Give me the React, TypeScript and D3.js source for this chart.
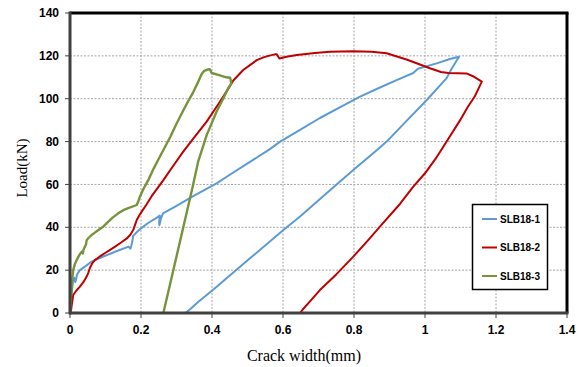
import React from "react";
import * as d3 from "d3";

const xTicks = [0, 0.2, 0.4, 0.6, 0.8, 1, 1.2, 1.4];
const yTicks = [0, 20, 40, 60, 80, 100, 120, 140];
const seriesNames = ["SLB18-1", "SLB18-2", "SLB18-3"];
const seriesColors = ["#5B9BD5", "#C00000", "#77933C"];

const slb1: [number, number][] = [
  [0.004, 8], [0.008, 14], [0.012, 16.5], [0.015, 14.5], [0.017, 15.5], [0.02, 18], [0.028, 20],
  [0.045, 22], [0.061, 24], [0.089, 26], [0.127, 28.6], [0.165, 31], [0.17, 30], [0.173, 31.5],
  [0.175, 33], [0.178, 36], [0.19, 38], [0.2, 39.5], [0.22, 42], [0.245, 44.5], [0.253, 45.5],
  [0.251, 42], [0.252, 41], [0.256, 44], [0.262, 46.5], [0.3, 50], [0.347, 54.5], [0.413, 60.5],
  [0.45, 64.5], [0.507, 70.5], [0.563, 76.5], [0.592, 80], [0.648, 85.5], [0.704, 91], [0.76, 96],
  [0.817, 101], [0.87, 105], [0.92, 108.7], [0.967, 112], [0.98, 114], [1.033, 116.5],
  [1.07, 118.5], [1.096, 119.6],
  [1.075, 114], [1.061, 109.6], [1.005, 99.4], [0.95, 90], [0.892, 80], [0.864, 76], [0.798, 66.7],
  [0.755, 60.6], [0.648, 45], [0.601, 38.7], [0.507, 25.5], [0.404, 11], [0.36, 5], [0.34, 2],
  [0.325, 0],
];

const slb2: [number, number][] = [
  [0, 0], [0.003, 1.4], [0.006, 5], [0.009, 8.4], [0.018, 10.5], [0.028, 12.3], [0.038, 14.5],
  [0.047, 17], [0.052, 19], [0.056, 21], [0.062, 23], [0.07, 24.7], [0.085, 26.5], [0.099, 28],
  [0.113, 29.5], [0.127, 31], [0.145, 33], [0.16, 34.8], [0.17, 36.5], [0.178, 38.7], [0.183, 41],
  [0.188, 43.4], [0.195, 45.5], [0.202, 47.3], [0.215, 50.5], [0.23, 54.5], [0.263, 62],
  [0.29, 68.5], [0.319, 75.3], [0.35, 82], [0.385, 89.3], [0.42, 98], [0.451, 106], [0.46, 108.5],
  [0.488, 113.4], [0.507, 115.7], [0.526, 118], [0.545, 119.3], [0.559, 120], [0.577, 120.7],
  [0.582, 120.8], [0.59, 118.8], [0.61, 119.6], [0.639, 120.4], [0.69, 121.3], [0.732, 121.9],
  [0.798, 122.2], [0.85, 121.9], [0.892, 121.2], [0.95, 118.2], [1.014, 114.2], [1.045, 112.5],
  [1.066, 112], [1.117, 111.8], [1.135, 110.5], [1.16, 108],
  [1.14, 101], [1.12, 96], [1.099, 90], [1.061, 80], [1.03, 72], [1.0, 65.2], [0.967, 59],
  [0.93, 51], [0.873, 40.3], [0.84, 34], [0.798, 26.3], [0.75, 18], [0.704, 10.7], [0.671, 4.5],
  [0.655, 1.5], [0.648, 0],
];

const slb3: [number, number][] = [
  [0, 0], [0.003, 8], [0.005, 13.9], [0.009, 20], [0.014, 23], [0.019, 24.7], [0.026, 27],
  [0.033, 28.6], [0.036, 27.8], [0.038, 29.5], [0.042, 31], [0.045, 32], [0.047, 34],
  [0.052, 35], [0.061, 36.4], [0.07, 37.5], [0.08, 38.7], [0.095, 40.5], [0.108, 42.6],
  [0.12, 44.5], [0.136, 46.5], [0.15, 48], [0.164, 48.9], [0.188, 50.4], [0.192, 52],
  [0.197, 54.3], [0.207, 58], [0.222, 62.5], [0.236, 67.5], [0.25, 72], [0.266, 77], [0.282, 82],
  [0.3, 88.3], [0.319, 94.5], [0.335, 99.5], [0.347, 103], [0.36, 107.5], [0.371, 111.5],
  [0.378, 113], [0.386, 113.5], [0.394, 113.8], [0.399, 112], [0.42, 111], [0.44, 110],
  [0.451, 109.8], [0.455, 107.2],
  [0.446, 105], [0.43, 99.5], [0.413, 94], [0.385, 83], [0.361, 70.6], [0.343, 57], [0.263, 0],
];

const allSeries = [slb1, slb2, slb3];

const W = 581;
const H = 367;
const x = d3.scaleLinear().domain([0, 1.4]).range([70, 567]);
const y = d3.scaleLinear().domain([0, 140]).range([313, 13]);

export default function App() {
  const line = d3
    .line<[number, number]>()
    .x((d) => x(d[0]))
    .y((d) => y(d[1]));
  const tickFont = "'Liberation Sans', Arial, sans-serif";
  const serif = "'Liberation Serif', 'Times New Roman', serif";
  const legendY = [219, 247.5, 276];
  return (
    <div style={{ position: "absolute", left: 0, top: 0 }}>
      <svg width={W} height={H} style={{ display: "block", background: "#fff" }}>
        {xTicks.slice(1, -1).map((t) => (
          <line key={"gx" + t} x1={x(t)} x2={x(t)} y1={y(140)} y2={y(0)} stroke="#a6a6a6" strokeWidth={1} strokeDasharray="2,1.5" />
        ))}
        {yTicks.slice(1, -1).map((t) => (
          <line key={"gy" + t} x1={x(0)} x2={x(1.4)} y1={y(t)} y2={y(t)} stroke="#a6a6a6" strokeWidth={1} strokeDasharray="2,1.5" />
        ))}
        {allSeries.map((s, i) => (
          <path key={i} d={line(s) || ""} fill="none" stroke={seriesColors[i]} strokeWidth={i === 2 ? 2.4 : 2} strokeLinejoin="round" />
        ))}
        <line x1={x(0)} x2={x(1.4) + 1.5} y1={y(140)} y2={y(140)} stroke="#000" strokeWidth={3} />
        <line x1={x(1.4)} x2={x(1.4)} y1={y(140)} y2={y(0)} stroke="#000" strokeWidth={3} />
        <line x1={x(0)} x2={x(0)} y1={y(140) - 1.5} y2={y(0) + 1.5} stroke="#404040" strokeWidth={3} />
        <line x1={x(0)} x2={x(1.4) + 1.5} y1={y(0)} y2={y(0)} stroke="#404040" strokeWidth={3} />
        {yTicks.map((t) => (
          <g key={"ty" + t}>
            <line x1={x(0) - 5} x2={x(0)} y1={y(t)} y2={y(t)} stroke="#404040" strokeWidth={1} />
            <text x={59} y={y(t)} dy="0.35em" textAnchor="end" fontFamily={tickFont} fontWeight="bold" fontSize={12} fill="#000">
              {t}
            </text>
          </g>
        ))}
        {xTicks.map((t) => (
          <g key={"tx" + t}>
            <line x1={x(t)} x2={x(t)} y1={y(0)} y2={y(0) + 5} stroke="#404040" strokeWidth={1} />
            <text x={x(t)} y={334} textAnchor="middle" fontFamily={tickFont} fontWeight="bold" fontSize={12} fill="#000">
              {t}
            </text>
          </g>
        ))}
        <text x={304} y={361} textAnchor="middle" fontFamily={serif} fontSize={16} fill="#000">
          Crack width(mm)
        </text>
        <text transform="translate(27,168) rotate(-90)" textAnchor="middle" fontFamily={serif} fontSize={15} fill="#000">
          Load(kN)
        </text>
        <rect x={472.5} y={204.5} width={75} height={85} fill="#fff" stroke="#000" strokeWidth={1.5} />
        {seriesNames.map((n, i) => (
          <g key={n}>
            <line x1={482} x2={497} y1={legendY[i]} y2={legendY[i]} stroke={seriesColors[i]} strokeWidth={2} />
            <text x={500} y={legendY[i]} dy="0.35em" fontFamily={tickFont} fontWeight="bold" fontSize={10} fill="#000">
              {n}
            </text>
          </g>
        ))}
      </svg>
    </div>
  );
}
